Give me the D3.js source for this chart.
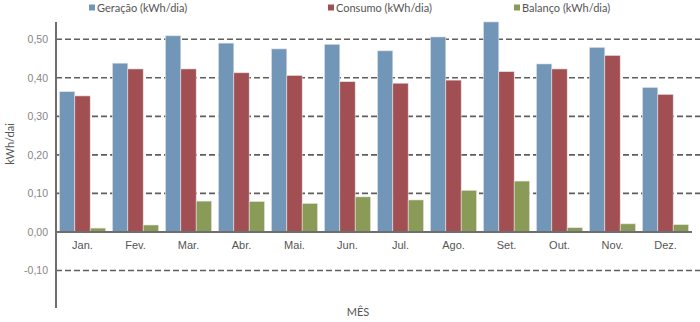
<!DOCTYPE html>
<html>
<head>
<meta charset="utf-8">
<script src="https://cdn.jsdelivr.net/npm/d3@7/dist/d3.min.js"></script>
<style>
  html, body { margin: 0; padding: 0; background: #fff; }
  svg { display: block; font-family: "Lato", "Open Sans", sans-serif; }
</style>
</head>
<body>
<svg id="chart" width="700" height="322"></svg>
<script>
// Monthly energy figures (kWh/dia)
const months = ["Jan.", "Fev.", "Mar.", "Abr.", "Mai.", "Jun.", "Jul.", "Ago.", "Set.", "Out.", "Nov.", "Dez."];
const geracao = [0.364, 0.438, 0.509, 0.490, 0.475, 0.487, 0.470, 0.506, 0.545, 0.436, 0.479, 0.375];
const consumo = [0.353, 0.423, 0.423, 0.413, 0.406, 0.390, 0.386, 0.394, 0.416, 0.423, 0.458, 0.357];
const balanco = [0.010, 0.018, 0.080, 0.079, 0.074, 0.091, 0.083, 0.108, 0.132, 0.011, 0.021, 0.019];
const seriesNames = ["Geração (kWh/dia)", "Consumo (kWh/dia)", "Balanço (kWh/dia)"];
const yTicks = [-0.1, 0, 0.1, 0.2, 0.3, 0.4, 0.5];

const colors = ["#7196b8", "#a14f53", "#8a9b57"];
const series = [geracao, consumo, balanco];

const svg = d3.select("#chart");
const plotLeft = 56, plotRight = 692, plotTop = 20, plotBottom = 309;

const x = d3.scaleBand().domain(months).range([plotLeft, plotRight]).paddingInner(0.13).paddingOuter(0.065);
const xs = d3.scaleBand().domain(d3.range(3)).range([0, x.bandwidth()]);
const y = d3.scaleLinear().domain([-0.2, 0.55]).range([plotBottom, plotTop]);

const fmt = v => d3.format(".2f")(v).replace(".", ",").replace("−", "-");

// dashed gridlines
svg.append("g")
  .selectAll("line")
  .data(yTicks.filter(v => v !== 0))
  .join("line")
  .attr("x1", plotLeft).attr("x2", 700)
  .attr("y1", d => y(d)).attr("y2", d => y(d))
  .attr("stroke", "#5f5f5f").attr("stroke-width", 1.6)
  .attr("stroke-dasharray", "6,3");

// bars
const groups = svg.append("g").selectAll("g")
  .data(months)
  .join("g")
  .attr("transform", d => `translate(${x(d)},0)`);

groups.selectAll("rect")
  .data((m, i) => series.map((s, k) => ({ k, v: s[i] })))
  .join("rect")
  .attr("x", d => xs(d.k))
  .attr("width", xs.bandwidth())
  .attr("y", d => y(Math.max(0, d.v)))
  .attr("height", d => Math.abs(y(d.v) - y(0)))
  .attr("fill", d => colors[d.k])
  .attr("stroke", "#e4e4e4").attr("stroke-width", 0.6);

// zero line
svg.append("line")
  .attr("x1", plotLeft).attr("x2", plotRight)
  .attr("y1", y(0)).attr("y2", y(0))
  .attr("stroke", "#6e6e6e").attr("stroke-width", 2);

// y axis
const yAxis = svg.append("g")
  .attr("transform", `translate(${plotLeft},0)`)
  .call(d3.axisLeft(y).tickValues(yTicks).tickFormat(fmt).tickSize(0).tickPadding(8));
yAxis.select(".domain").remove();
yAxis.selectAll("text").attr("fill", "#858585").attr("font-size", 10.5);
svg.append("line")
  .attr("x1", plotLeft).attr("x2", plotLeft)
  .attr("y1", 22).attr("y2", 308)
  .attr("stroke", "#6e6e6e").attr("stroke-width", 2);

// x labels
const xAxis = svg.append("g")
  .attr("transform", `translate(0,${y(0)})`)
  .call(d3.axisBottom(x).tickSize(0).tickPadding(9));
xAxis.select(".domain").remove();
xAxis.selectAll("text").attr("fill", "#555").attr("font-size", 11);

// axis titles
svg.append("text")
  .attr("transform", "translate(14,144) rotate(-90)")
  .attr("text-anchor", "middle")
  .attr("fill", "#555").attr("font-size", 11)
  .text("kWh/dai");
svg.append("text")
  .attr("x", 358).attr("y", 316)
  .attr("text-anchor", "middle")
  .attr("fill", "#555").attr("font-size", 11)
  .text("MÊS");

// legend
const legendX = [89, 328, 514];
const legend = svg.append("g").selectAll("g")
  .data(seriesNames)
  .join("g")
  .attr("transform", (d, i) => `translate(${legendX[i]},8)`);
legend.append("rect")
  .attr("x", 0).attr("y", -3.5).attr("width", 6).attr("height", 6)
  .attr("fill", (d, i) => colors[i]);
legend.append("text")
  .attr("x", 8).attr("y", 4)
  .attr("fill", "#555").attr("font-size", 11)
  .text(d => d);
</script>
</body>
</html>
